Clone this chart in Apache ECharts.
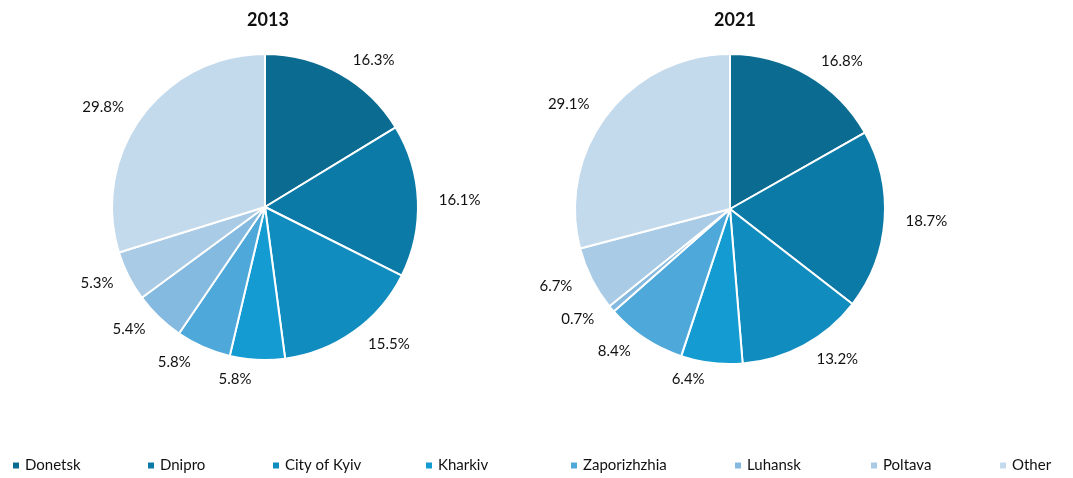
<!DOCTYPE html>
<html>
<head>
<meta charset="utf-8">
<script src="https://cdn.jsdelivr.net/npm/echarts@6/dist/echarts.min.js"></script>
<style>
html, body { margin: 0; padding: 0; background: #fff; }
#main { width: 1073px; height: 478px; }
</style>
</head>
<body>
<div id="main"></div>
<script>
let chart = echarts.init(document.getElementById("main"));

// regions and their shares (%)
var regions = ["Donetsk", "Dnipro", "City of Kyiv", "Kharkiv", "Zaporizhzhia", "Luhansk", "Poltava", "Other"];
var share2013 = [16.3, 16.1, 15.5, 5.8, 5.8, 5.4, 5.3, 29.8];
var share2021 = [16.8, 18.7, 13.2, 6.4, 8.4, 0.7, 6.7, 29.1];
var colors = ["#0b6b91", "#0b7aa7", "#118cbe", "#149bd1", "#4ea8d9", "#84b9e0", "#a9cbe6", "#c3d9ec"];
var legendLeft = [6, 141, 266, 419, 564, 728, 864, 993];

var fontFam = "Lato, 'Open Sans', sans-serif";

function makeData(vals) {
    var out = [];
    for (var i = 0; i < regions.length; i++) {
        out.push({ name: regions[i], value: vals[i] });
    }
    return out;
}

function makeSeries(vals, cx, cy, r) {
    return {
        type: "pie",
        center: [cx, cy],
        radius: [0, r],
        startAngle: 90,
        clockwise: true,
        animation: false,
        data: makeData(vals),
        itemStyle: { borderColor: "#fff", borderWidth: 2 },
        label: {
            show: true,
            position: "outside",
            formatter: function (p) { return p.value.toFixed(1) + "%"; },
            color: "#111",
            fontSize: 15,
            fontFamily: fontFam
        },
        labelLine: { show: false, length: 16, length2: 0 },
        emphasis: { disabled: true }
    };
}

var legends = [];
for (var i = 0; i < regions.length; i++) {
    legends.push({
        data: [regions[i]],
        left: legendLeft[i],
        top: 453,
        icon: "rect",
        itemWidth: 8,
        itemHeight: 8,
        itemGap: 6,
        textStyle: { fontSize: 15, color: "#111", fontFamily: fontFam }
    });
}

let option = {
    backgroundColor: "#fff",
    color: colors,
    title: [
        { text: "2013", left: 263, top: 6, textAlign: "center",
          textStyle: { fontSize: 18, fontWeight: "bold", color: "#111", fontFamily: fontFam } },
        { text: "2021", left: 730, top: 6, textAlign: "center",
          textStyle: { fontSize: 18, fontWeight: "bold", color: "#111", fontFamily: fontFam } }
    ],
    legend: legends,
    series: [
        makeSeries(share2013, 265, 207, 153),
        makeSeries(share2021, 730, 209, 155)
    ]
};

chart.setOption(option);
</script>
</body>
</html>
